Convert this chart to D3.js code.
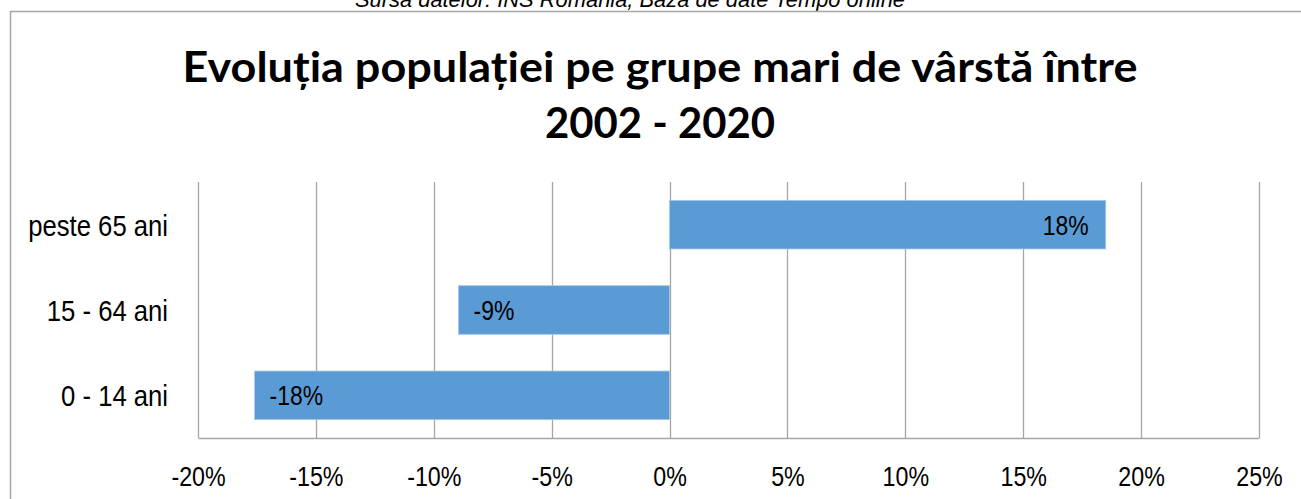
<!DOCTYPE html>
<html lang="ro">
	<head>
		<meta charset="utf-8">
		<title>evolutia populatiei</title>
		<script type="text/javascript" src="https://d3js.org/d3.v7.min.js"></script>
		<style type="text/css">
            body{margin:0;background:#fff;}
            svg{display:block;}
            .narrow{font-family:"Liberation Sans",Arial,sans-serif;}
		</style>
	</head>
	<body>
    <div id="chart1"></div>
		<script type="text/javascript"> 
            //growth of each age group between 2002 and 2020 (in %)
            var data = [
                {grupa:"peste 65 ani", val:18.5, label:"18%"},
                {grupa:"15 - 64 ani", val:-8.95, label:"-9%"},
                {grupa:"0 - 14 ani", val:-17.6, label:"-18%"}
            ]

            var w = 1301
            var h = 499
            var svg = d3.select("#chart1")
                        .append("svg")
                        .attr("width",w)
                        .attr("height",h)

            //source line, cut off at the top like in the original screenshot
            svg.append("text")
                .attr("class","narrow")
                .attr("x",355)
                .attr("y",7)
                .attr("font-size",22)
                .attr("font-style","italic")
                .attr("fill","#000")
                .attr("textLength",550)
                .attr("lengthAdjust","spacingAndGlyphs")
                .text("Sursa datelor: INS România, Baza de date Tempo online")

            //chart border
            svg.append("rect")
                .attr("x",10.5)
                .attr("y",11.5)
                .attr("width",w)
                .attr("height",h)
                .attr("fill","none")
                .attr("stroke","#a6a6a6")
                .attr("stroke-width",1.5)

            //title
            var title = svg.append("text")
                .attr("text-anchor","middle")
                .attr("font-family","Lato, 'Open Sans', sans-serif")
                .attr("font-weight","bold")
                .attr("font-size",42)
                .attr("fill","#000")
            title.append("tspan").attr("x",660).attr("y",82).attr("textLength",955).attr("lengthAdjust","spacingAndGlyphs")
                .text("Evoluția populației pe grupe mari de vârstă între")
            title.append("tspan").attr("x",660).attr("y",138).attr("textLength",230).attr("lengthAdjust","spacingAndGlyphs")
                .text("2002 - 2020")

            var mLeft = 198, mRight = 1259, mTop = 182, mBottom = 438
            var xScale = d3.scaleLinear().domain([-0.20,0.25]).range([mLeft,mRight])
            var yScale = d3.scaleBand().domain(data.map(function(d){ return d.grupa })).range([mTop,mBottom]).paddingInner(0.43).paddingOuter(0.215)

            //vertical gridlines
            svg.append("g")
                .selectAll("line")
                .data(xScale.ticks(9))
                .enter()
                .append("line")
                .attr("x1",function(d){ return Math.round(xScale(d))+0.5 })
                .attr("x2",function(d){ return Math.round(xScale(d))+0.5 })
                .attr("y1",mTop)
                .attr("y2",mBottom)
                .attr("stroke","#a6a6a6")
                .attr("stroke-width",1.3)

            //bottom axis, narrow labels = Liberation Sans squeezed horizontally
            var xAxis = d3.axisBottom(xScale).ticks(9).tickSize(0).tickPadding(26)
                .tickFormat(function(d){ return Math.round(d*100)+"%" })
            var gx = svg.append("g")
                .attr("transform","translate(0,"+mBottom+")")
                .call(xAxis)
            gx.select(".domain").attr("stroke","#a6a6a6").attr("stroke-width",1.3)
            gx.selectAll("text")
                .attr("class","narrow")
                .attr("font-family",null)
                .attr("font-size",28)
                .attr("fill","#000")
                .attr("y",48)
                .attr("dy",0)
                .attr("transform","scale(0.83,1)")

            //bars
            svg.selectAll("rect.bar")
                .data(data)
                .enter()
                .append("rect")
                .attr("class","bar")
                .attr("x",function(d){ return xScale(Math.min(0,d.val/100)) })
                .attr("y",function(d){ return yScale(d.grupa) })
                .attr("width",function(d){ return Math.abs(xScale(d.val/100)-xScale(0)) })
                .attr("height",yScale.bandwidth())
                .attr("fill","#5b9bd5")
                .attr("stroke","#a9c8ea")
                .attr("stroke-width",0.8)

            //value labels, inside end
            svg.selectAll("text.val")
                .data(data)
                .enter()
                .append("text")
                .attr("class","val narrow")
                .attr("transform",function(d){
                    var x = d.val < 0 ? xScale(d.val/100)+15 : xScale(d.val/100)-17
                    var y = yScale(d.grupa)+yScale.bandwidth()/2+10
                    return "translate("+x+","+y+") scale(0.82,1)"
                })
                .attr("text-anchor",function(d){ return d.val < 0 ? "start" : "end" })
                .attr("font-size",28)
                .attr("fill","#000")
                .text(function(d){ return d.label })

            //category labels
            svg.selectAll("text.cat")
                .data(data)
                .enter()
                .append("text")
                .attr("class","cat narrow")
                .attr("transform",function(d){
                    var y = yScale(d.grupa)+yScale.bandwidth()/2+11
                    return "translate(168,"+y+") scale(0.87,1)"
                })
                .attr("text-anchor","end")
                .attr("font-size",29.5)
                .attr("fill","#000")
                .text(function(d){ return d.grupa })
        </script>
	</body>
</html>
